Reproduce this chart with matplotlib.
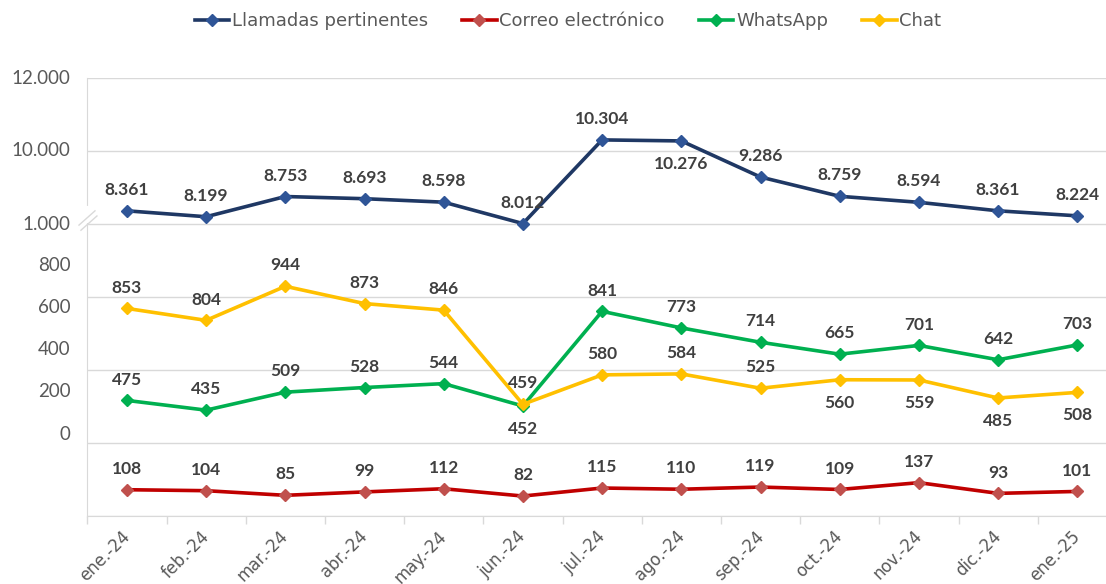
import numpy as np
import matplotlib
matplotlib.use("Agg")
import matplotlib.pyplot as plt
import matplotlib.transforms as mtransforms
from matplotlib.lines import Line2D

plt.rcParams['font.family'] = ['DejaVu Sans']

meses = ['ene.-24', 'feb.-24', 'mar.-24', 'abr.-24', 'may.-24', 'jun.-24', 'jul.-24',
         'ago.-24', 'sep.-24', 'oct.-24', 'nov.-24', 'dic.-24', 'ene.-25']
llamadas = [8361, 8199, 8753, 8693, 8598, 8012, 10304, 10276, 9286, 8759, 8594, 8361, 8224]
correo = [108, 104, 85, 99, 112, 82, 115, 110, 119, 109, 137, 93, 101]
whatsapp = [475, 435, 509, 528, 544, 452, 841, 773, 714, 665, 701, 642, 703]
chat = [853, 804, 944, 873, 846, 459, 580, 584, 525, 560, 559, 485, 508]

# etiquetas del eje y tal como aparecen en el original
ytick_top = ['12.000', '10.000', '1.000']
ytick_low = ['800', '600', '400', '200', '0']

# posicion de etiqueta: 'a' arriba, 'b' abajo
pos_llam = ['a'] * 7 + ['b'] + ['a'] * 5
pos_corr = ['a'] * 13
pos_wa = ['a'] * 5 + ['b'] + ['a'] * 7
pos_chat = ['a'] * 9 + ['b'] * 4

def fmt(v):
    return f"{v:,}".replace(",", ".")

fig = plt.figure(figsize=(11.06, 5.84), dpi=100)
ax = fig.add_axes([87.3 / 1106, 1 - 516 / 584, 1029.6 / 1106, 438 / 584])
ax2 = ax.twinx()

x = np.arange(len(meses))
ax.set_xlim(-0.5, len(meses) - 0.5)
ax.set_ylim(0, 12000)
ax2.set_ylim(0, 1800)

grid_c = '#D9D9D9'
txt_c = '#595959'
ax.set_yticks(np.arange(0, 12001, 2000))
ax.set_yticklabels([])
ax.tick_params(axis='y', length=0)
ax.yaxis.grid(True, color=grid_c, lw=1)
ax.set_axisbelow(True)
for s in ['top', 'right']:
    ax.spines[s].set_visible(False)
ax.spines['left'].set_color(grid_c)
ax.spines['bottom'].set_color(grid_c)
ax.spines['left'].set_bounds(0, 12000)

ax.set_xticks(x)
ax.set_xticklabels(meses, rotation=45, ha='right', va='top', rotation_mode='anchor',
                   color=txt_c, fontsize=12)
ax.tick_params(axis='x', which='major', length=0, pad=8)
shift = mtransforms.ScaledTranslation(-6 / 100, 0, fig.dpi_scale_trans)
for lab in ax.get_xticklabels():
    lab.set_transform(lab.get_transform() + shift)
ax.set_xticks(np.arange(-0.5, len(meses), 1), minor=True)
ax.tick_params(axis='x', which='minor', length=6, color=grid_c, width=1)

ax2.axis('off')

series = [
    (ax, llamadas, 'Llamadas pertinentes', '#1F3864', '#2F5597', pos_llam),
    (ax2, correo, 'Correo electrónico', '#C00000', '#C0504D', pos_corr),
    (ax2, whatsapp, 'WhatsApp', '#00B050', '#00B050', pos_wa),
    (ax2, chat, 'Chat', '#FFC000', '#FFC000', pos_chat),
]

handles = []
for a, vals, name, lc, mc, pos in series:
    a.plot(x, vals, color=lc, lw=2.6, marker='D', ms=6.5, mfc=mc, mec=mc, zorder=3,
           solid_joinstyle='round')
    for xi, v, p in zip(x, vals, pos):
        dy = 15 if p == 'a' else -16.5
        a.annotate(fmt(v), (xi, v), xytext=(0, dy), textcoords='offset points',
                   ha='center', va='center', fontsize=12.5, fontweight='bold',
                   family='Lato', color='#404040', zorder=5)
    handles.append(Line2D([], [], color=lc, lw=2.6, marker='D', ms=6, mfc=mc, mec=mc))

# etiquetas del eje y
for lab, yv in zip(ytick_top, [12000, 10000, 8000]):
    ax.text(-0.0165, yv, lab, transform=ax.get_yaxis_transform(), ha='right',
            va='center', fontsize=13.5, family='Lato', color=txt_c)
for i, lab in enumerate(ytick_low):
    yf = 0.573 - i * 0.0965
    ax.text(-0.0165, yf, lab, transform=ax.transAxes, ha='right', va='center',
            fontsize=13.5, family='Lato', color=txt_c)

# marca de corte del eje
ax.plot([-0.5, -0.5], [8080, 8450], color='white', lw=3, clip_on=False, zorder=4)
ax.plot([-0.605, -0.403], [7970, 8360], color=grid_c, lw=1, clip_on=False, zorder=5)
ax.plot([-0.58, -0.378], [7830, 8220], color=grid_c, lw=1, clip_on=False, zorder=5)

fig.legend(handles=handles, labels=[s[2] for s in series],
           loc='center', bbox_to_anchor=(568 / 1106, 1 - 21 / 584), ncol=4,
           frameon=False, fontsize=13, labelcolor=txt_c, handlelength=1.9,
           handletextpad=0.15, columnspacing=1.9)

fig.savefig('out.png', dpi=100)
